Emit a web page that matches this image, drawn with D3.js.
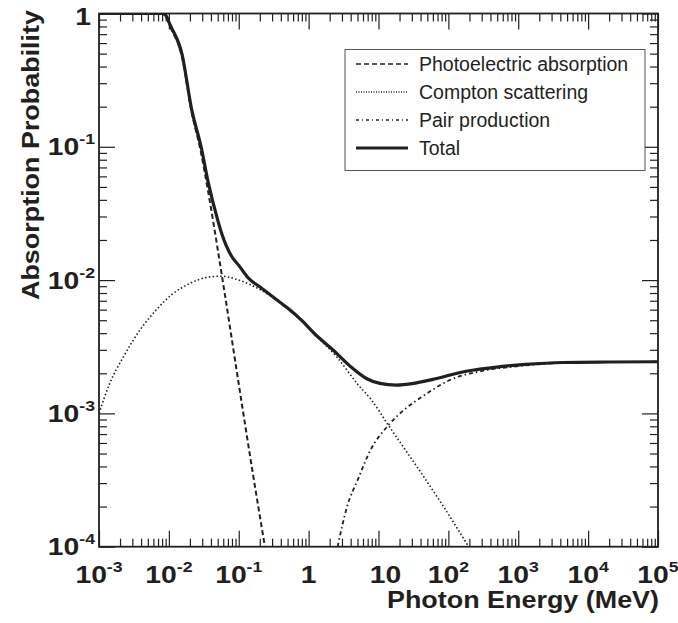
<!DOCTYPE html>
<html lang="en">
<head>
<meta charset="utf-8">
<title>Absorption Probability</title>
<script src="https://d3js.org/d3.v7.min.js"></script>
<style>
    body {
        margin: 0;
        background: #fff;
    }

    text {
        font-family: "Liberation Sans", Arial, Helvetica, sans-serif;
        fill: #231f20;
    }
</style>
</head>
<body>
<div id="chart"></div>
<script>
    // photon energy (MeV) and probability
    var photoE = [0.001, 0.0079, 0.0089, 0.0105, 0.0155, 0.021, 0.0282, 0.0363, 0.05, 0.063, 0.1, 0.158, 0.237];
    var photoP = [1, 1, 0.977, 0.794, 0.468, 0.186, 0.0955, 0.0468, 0.017, 0.00794, 0.00166, 0.000363, 0.0001];

    var comptonE = [0.001, 0.00141, 0.00224, 0.00398, 0.0063, 0.0112, 0.02, 0.0355, 0.0562, 0.0891, 0.141, 0.251,
        0.501, 1, 1.58, 2.51, 5.01, 7.94, 14.1, 35.5, 85.1, 195];
    var comptonP = [0.001, 0.00166, 0.00266, 0.00432, 0.00582, 0.00785, 0.00944, 0.0105, 0.0107, 0.0102, 0.00933, 0.00794,
        0.0061, 0.00437, 0.00343, 0.00266, 0.00166, 0.00126, 0.000804, 0.000398, 0.0002, 0.0001];

    var pairE = [2.6, 3.55, 5.13, 7.59, 13.8, 25.1, 41.7, 105, 316, 1000, 3981, 15849, 100000];
    var pairP = [0.0001, 0.0002, 0.000324, 0.000525, 0.000813, 0.0011, 0.00133, 0.00178, 0.00209, 0.00226, 0.00239, 0.00243, 0.00244];

    var totalE = [0.001, 0.0079, 0.0089, 0.0105, 0.0155, 0.021, 0.0295, 0.0363, 0.05, 0.057, 0.079, 0.1, 0.141, 0.2,
        0.316, 0.5, 0.79, 1.26, 2.24, 4, 6.8, 10.5, 18, 32, 60, 180, 550, 1260, 4400, 20000, 100000];
    var totalP = [1, 1, 0.977, 0.813, 0.49, 0.195, 0.0955, 0.055, 0.0282, 0.0224, 0.0151, 0.0129, 0.0102, 0.00891,
        0.00741, 0.00617, 0.00501, 0.00389, 0.00299, 0.00224, 0.00182, 0.00168, 0.00163, 0.00168, 0.0018, 0.00207,
        0.00224, 0.00233, 0.00241, 0.00243, 0.00244];

    var seriesNames = ["Photoelectric absorption", "Compton scattering", "Pair production", "Total"];
    var xLabelTicks = [1e-3, 1e-2, 1e-1, 1, 10, 1e2, 1e3, 1e4, 1e5];
    var yLabelTicks = [1, 1e-1, 1e-2, 1e-3, 1e-4];

    var W = 678, H = 623;
    var pl = 99, pr = 658, pt = 13.5, pb = 546.7;

    var svg = d3.select("#chart")
        .append("svg")
        .attr("width", W)
        .attr("height", H);

    var x = d3.scaleLog().domain([1e-3, 1e5]).range([pl, pr]);
    var y = d3.scaleLog().domain([1e-4, 1]).range([pb, pt]);

    function isMajor(t) {
        var l = Math.log10(t);
        return Math.abs(l - Math.round(l)) < 1e-9;
    }
    // 1..9 in every decade
    var xAll = x.ticks(40), yAll = y.ticks(40);
    var xMajor = xAll.filter(isMajor), xMinor = xAll.filter(function (t) { return !isMajor(t); });
    var yMajor = yAll.filter(isMajor), yMinor = yAll.filter(function (t) { return !isMajor(t); });

    function tickAxis(axis, vals, size, tr) {
        svg.append("g")
            .attr("transform", tr)
            .style("color", "#231f20")
            .call(axis.tickValues(vals).tickSizeInner(-size).tickSizeOuter(0).tickFormat(""))
            .call(function (g) { g.select(".domain").remove(); })
            .selectAll("line").attr("stroke-width", 1.2);
    }
    tickAxis(d3.axisBottom(x), xMinor, 8, "translate(0," + pb + ")");
    tickAxis(d3.axisBottom(x), xMajor, 16, "translate(0," + pb + ")");
    tickAxis(d3.axisTop(x), xMinor, 8, "translate(0," + pt + ")");
    tickAxis(d3.axisTop(x), xMajor, 16, "translate(0," + pt + ")");
    tickAxis(d3.axisLeft(y), yMinor, 8, "translate(" + pl + ",0)");
    tickAxis(d3.axisLeft(y), yMajor, 16, "translate(" + pl + ",0)");
    tickAxis(d3.axisRight(y), yMinor, 8, "translate(" + pr + ",0)");
    tickAxis(d3.axisRight(y), yMajor, 16, "translate(" + pr + ",0)");

    // frame
    svg.append("rect")
        .attr("x", pl).attr("y", pt)
        .attr("width", pr - pl).attr("height", pb - pt)
        .attr("fill", "none")
        .attr("stroke", "#231f20")
        .attr("stroke-width", 1.8);

    // tick labels: 10 with superscript exponent
    function powLabel(sel, t) {
        var e = Math.round(Math.log10(t));
        if (e === 0) { sel.append("tspan").text("1"); return; }
        sel.append("tspan").text("10");
        if (e !== 1) {
            sel.append("tspan").attr("dy", -11).style("font-size", "15px").text(String(e));
        }
    }

    xLabelTicks.forEach(function (t) {
        var shift = Math.round(Math.log10(t)) === 1 ? 7 : 0;
        var txt = svg.append("text")
            .attr("transform", "translate(" + (x(t) + shift) + ",583) scale(1.18,1)")
            .attr("text-anchor", "middle")
            .style("font-size", "24px")
            .style("font-weight", "bold");
        powLabel(txt, t);
    });

    yLabelTicks.forEach(function (t) {
        var e = Math.round(Math.log10(t));
        var txt = svg.append("text")
            .attr("transform", "translate(" + (e === 0 ? 91 : 95) + "," + (y(t) + (e === 0 ? 11.5 : 8.5)) + ") scale(1.18,1)")
            .attr("text-anchor", "end")
            .style("font-size", "24px")
            .style("font-weight", "bold");
        powLabel(txt, t);
    });

    // axis titles
    svg.append("text")
        .attr("x", 659)
        .attr("y", 608)
        .attr("text-anchor", "end")
        .attr("textLength", 272)
        .attr("lengthAdjust", "spacingAndGlyphs")
        .style("font-size", "24px")
        .style("font-weight", "bold")
        .text("Photon Energy (MeV)");

    svg.append("text")
        .attr("transform", "translate(38.5,10) rotate(-90)")
        .attr("text-anchor", "end")
        .attr("textLength", 290)
        .attr("lengthAdjust", "spacingAndGlyphs")
        .style("font-size", "24px")
        .style("font-weight", "bold")
        .text("Absorption Probability");

    // curves
    svg.append("clipPath").attr("id", "plotclip")
        .append("rect")
        .attr("x", pl).attr("y", pt)
        .attr("width", pr - pl).attr("height", pb - pt);

    var styles = [
        { dash: "5,3", width: 2 },
        { dash: "1.5,2.3", width: 1.6 },
        { dash: "4,3,1.5,3", width: 1.8 },
        { dash: null, width: 3.2 }
    ];
    var series = [
        d3.zip(photoE, photoP),
        d3.zip(comptonE, comptonP),
        d3.zip(pairE, pairP),
        d3.zip(totalE, totalP)
    ];

    var line = d3.line()
        .x(function (d) { return x(d[0]); })
        .y(function (d) { return y(d[1]); })
        .curve(d3.curveMonotoneX);

    series.forEach(function (s, i) {
        svg.append("path")
            .datum(s)
            .attr("clip-path", "url(#plotclip)")
            .attr("d", line)
            .attr("fill", "none")
            .attr("stroke", "#231f20")
            .attr("stroke-width", styles[i].width)
            .attr("stroke-dasharray", styles[i].dash)
            .attr("stroke-linejoin", "round");
    });

    // legend
    svg.append("rect")
        .attr("x", 345).attr("y", 49.5)
        .attr("width", 300).attr("height", 121)
        .attr("fill", "white")
        .attr("stroke", "#555")
        .attr("stroke-width", 1);

    seriesNames.forEach(function (name, i) {
        var ly = 64 + i * 28;
        svg.append("line")
            .attr("x1", 356).attr("x2", 408)
            .attr("y1", ly).attr("y2", ly)
            .attr("stroke", "#231f20")
            .attr("stroke-width", i === 3 ? 3.2 : (i === 1 ? 1.3 : 1.6))
            .attr("stroke-dasharray", i === 1 ? "1,1.5" : (i === 2 ? "3,3,1,3" : styles[i].dash));
        svg.append("text")
            .attr("x", 419)
            .attr("y", ly + 6.5)
            .style("font-size", "19.5px")
            .text(name);
    });
</script>
</body>
</html>
